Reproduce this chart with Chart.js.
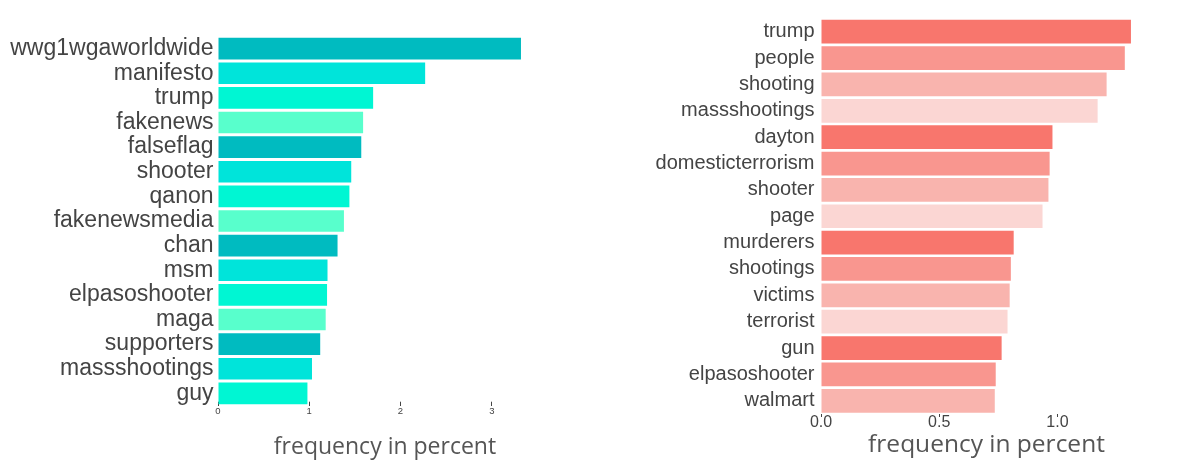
<!DOCTYPE html>
<html><head><meta charset="utf-8">
<script src="https://cdn.jsdelivr.net/npm/chart.js@4.4.1/dist/chart.umd.min.js"></script>
<style>
html,body{margin:0;padding:0;background:#fff;width:1199px;height:462px;overflow:hidden}
#c1{position:absolute;left:0;top:0}
#c2{position:absolute;left:600px;top:0}
</style></head><body>
<canvas id="c1" width="600" height="462"></canvas>
<canvas id="c2" width="599" height="462"></canvas>
<script>
const leftWords = ['wwg1wgaworldwide','manifesto','trump','fakenews','falseflag','shooter','qanon','fakenewsmedia','chan','msm','elpasoshooter','maga','supporters','massshootings','guy'];
const leftValues = [3.32,2.27,1.70,1.59,1.57,1.46,1.44,1.38,1.31,1.20,1.195,1.18,1.12,1.03,0.98];
const leftPalette = ['#00BBC0','#00E4DA','#00F6D3','#58FFCC'];
const leftTicks = [0,1,2,3];

const rightWords = ['trump','people','shooting','massshootings','dayton','domesticterrorism','shooter','page','murderers','shootings','victims','terrorist','gun','elpasoshooter','walmart'];
const rightValues = [1.311,1.285,1.208,1.170,0.979,0.967,0.962,0.937,0.815,0.803,0.798,0.789,0.764,0.739,0.735];
const rightPalette = ['#F8766D','#F9968F','#F9B4AE','#FBD6D3'];
const rightTicks = [0,0.5,1.0];

const axisTitle = 'frequency in percent';

function makeChart(id, words, values, palette, ticks, o) {
  const colors = values.map((v, i) => palette[i % palette.length]);
  return new Chart(document.getElementById(id), {
    type: 'bar',
    data: { labels: words, datasets: [{ data: values, backgroundColor: colors, borderWidth: 0,
      barPercentage: o.barPct, categoryPercentage: 1 }] },
    options: {
      indexAxis: 'y', responsive: false, maintainAspectRatio: false, animation: false,
      devicePixelRatio: 1,
      layout: { padding: { top: o.top, right: o.right, bottom: 0, left: 0 } },
      plugins: { legend: { display: false }, tooltip: { enabled: false } },
      scales: {
        y: {
          grid: { display: false, drawTicks: false }, border: { display: false },
          ticks: { autoSkip: false, color: '#444', padding: o.yPad, font: { family: 'Liberation Sans, Arial, sans-serif', size: o.yFont } },
          afterFit: s => { s.width = o.yWidth; }
        },
        x: {
          min: 0, max: o.max,
          grid: { display: true, drawOnChartArea: false, drawTicks: true, tickLength: o.tickLen, color: '#444', lineWidth: 1 },
          border: { display: false },
          afterBuildTicks: s => { s.ticks = ticks.map(v => ({ value: v })); },
          ticks: { autoSkip: false, color: '#444', padding: o.tickPad, font: { family: 'Liberation Sans, Arial, sans-serif', size: o.xFont },
            callback: v => o.fmt(v) },
          title: { display: true, text: axisTitle, color: '#555',
            font: { family: 'Open Sans, sans-serif', size: o.titleFont },
            padding: { top: 0, bottom: o.titlePadB } },
          afterFit: s => { s.height = o.xHeight; }
        }
      }
    }
  });
}

makeChart('c1', leftWords, leftValues, leftPalette, leftTicks, {
  barPct: 0.88, top: 36.3, right: 48, yWidth: 218, yPad: 4.5, yFont: 23,
  max: 3.66, tickLen: -4, tickPad: 4, xFont: 9.5, titleFont: 23, titlePadB: 0.5, xHeight: 56.3,
  fmt: v => String(v)
});
makeChart('c2', rightWords, rightValues, rightPalette, rightTicks, {
  barPct: 0.9, top: 8.65, right: 47, yWidth: 221, yPad: 6.5, yFont: 20,
  max: 1.4, tickLen: 3, tickPad: -4, xFont: 16, titleFont: 24.5, titlePadB: 2, xHeight: 48,
  fmt: v => v.toFixed(1)
});
</script>
</body></html>
